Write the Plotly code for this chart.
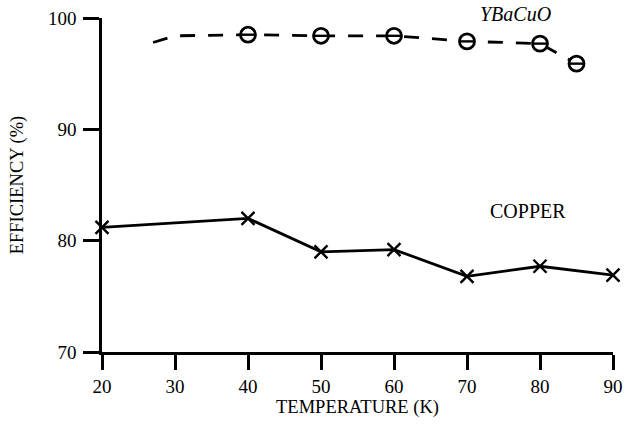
import plotly.graph_objects as go

temp_cu = [20, 40, 50, 60, 70, 80, 90]
eff_cu = [81.2, 82.0, 79.0, 79.2, 76.8, 77.7, 76.9]

temp_ybco_line = [27, 30, 40, 50, 60, 70, 80, 85]
eff_ybco_line = [97.8, 98.4, 98.5, 98.4, 98.4, 97.9, 97.7, 95.9]
temp_ybco_pts = [40, 50, 60, 70, 80, 85]
eff_ybco_pts = [98.5, 98.4, 98.4, 97.9, 97.7, 95.9]

x_ticks = [20, 30, 40, 50, 60, 70, 80, 90]
y_ticks = [70, 80, 90, 100]

FONT = "Liberation Serif"

fig = go.Figure()
fig.add_trace(go.Scatter(
    x=temp_cu, y=eff_cu, mode="lines+markers",
    line=dict(color="black", width=2.8),
    marker=dict(symbol="x-thin-open", size=13, color="black",
                line=dict(color="black", width=2.4)),
    showlegend=False, cliponaxis=False))
fig.add_trace(go.Scatter(
    x=temp_ybco_line, y=eff_ybco_line, mode="lines",
    line=dict(color="black", width=2.8, dash="15px,13px"),
    showlegend=False))
fig.add_trace(go.Scatter(
    x=temp_ybco_pts, y=eff_ybco_pts, mode="markers",
    marker=dict(symbol="circle", size=15, color="white",
                line=dict(color="black", width=2.8)),
    showlegend=False))
fig.add_trace(go.Scatter(
    x=temp_ybco_pts, y=eff_ybco_pts, mode="markers",
    marker=dict(symbol="line-ew-open", size=10, color="black",
                line=dict(color="black", width=2.4)),
    showlegend=False))

fig.add_annotation(x=76.6, xref="x", y=1, yref="paper", yanchor="middle", yshift=4,
                   text="<i>YBaCuO</i>", showarrow=False,
                   font=dict(family=FONT, size=20, color="black"))
fig.add_annotation(x=78.4, y=82.7, text="COPPER", showarrow=False,
                   font=dict(family=FONT, size=20, color="black"))

fig.update_layout(
    width=626, height=441,
    margin=dict(l=102, r=13, t=18, b=89, autoexpand=False),
    paper_bgcolor="white", plot_bgcolor="white",
    font=dict(family=FONT, size=19, color="black"),
    xaxis=dict(range=[20, 90], tickvals=x_ticks, showgrid=False, zeroline=False,
               automargin=False,
               showline=True, linecolor="black", linewidth=2.5,
               ticks="outside", ticklen=15, tickwidth=2.5, tickcolor="black",
               tickfont=dict(family=FONT, size=19),
               title=dict(text="TEMPERATURE (K)", standoff=4,
                          font=dict(family=FONT, size=18.5))),
    yaxis=dict(range=[70, 100], tickvals=y_ticks, showgrid=False, zeroline=False,
               automargin=False,
               showline=True, linecolor="black", linewidth=2.5,
               ticks="outside", ticklen=16, tickwidth=2.5, tickcolor="black",
               ticklabelstandoff=3,
               tickfont=dict(family=FONT, size=19),
               title=dict(text="EFFICIENCY (%)", standoff=20,
                          font=dict(family=FONT, size=18.5))),
)

fig.write_html("out.html", config={"displayModeBar": False},
               post_script="document.body.style.margin='0';document.body.style.overflow='hidden';")
